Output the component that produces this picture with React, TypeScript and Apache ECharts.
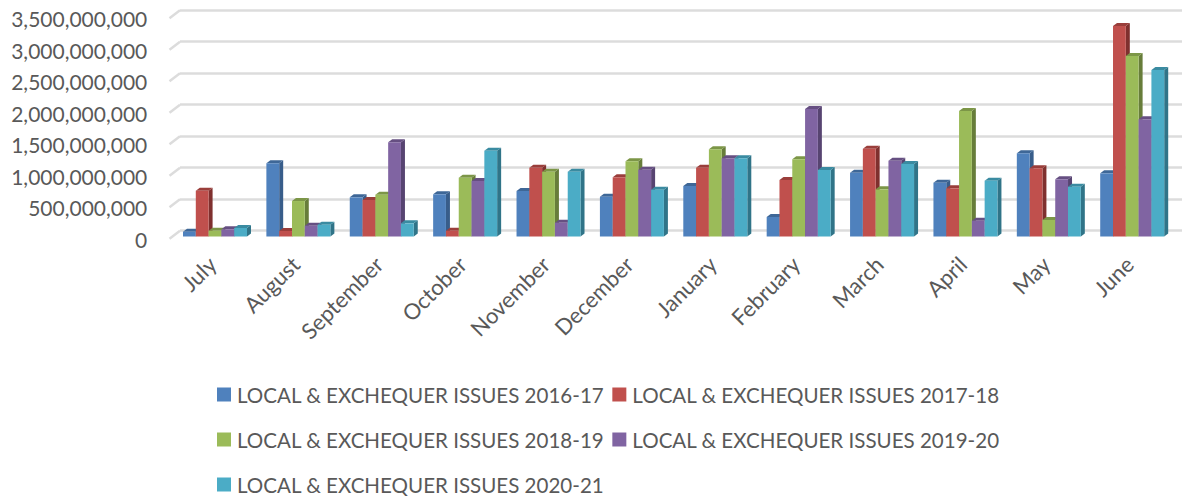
import React, { useEffect, useRef } from "react";
import * as echarts from "echarts";

const categories = ["July","August","September","October","November","December","January","February","March","April","May","June"];
const issues2016 = [76,1162,622,670,722,632,802,310,1013,854,1321,1003].map((v) => v * 1e6);
const issues2017 = [727,87,580,92,1092,940,1092,897,1394,765,1083,3341].map((v) => v * 1e6);
const issues2018 = [92,563,664,933,1029,1193,1384,1225,749,1992,262,2865].map((v) => v * 1e6);
const issues2019 = [114,171,1495,881,219,1060,1241,2024,1203,251,908,1860].map((v) => v * 1e6);
const issues2020 = [135,187,209,1362,1029,743,1241,1056,1151,886,790,2643].map((v) => v * 1e6);
const wallTicks = [0,500,1000,1500,2000,2500,3000,3500].map((v) => v * 1e6);

const names = [
  "LOCAL & EXCHEQUER ISSUES 2016-17",
  "LOCAL & EXCHEQUER ISSUES 2017-18",
  "LOCAL & EXCHEQUER ISSUES 2018-19",
  "LOCAL & EXCHEQUER ISSUES 2019-20",
  "LOCAL & EXCHEQUER ISSUES 2020-21",
];
const seriesValues = [issues2016, issues2017, issues2018, issues2019, issues2020];
const faceColors = ["#4F81BD", "#C0504D", "#9BBB59", "#8064A2", "#4BACC6"];
const sideColors = ["#385D8A", "#7F302E", "#677D3A", "#574471", "#307488"];
const topColors = ["#3E6797", "#9A3E3B", "#7C9647", "#664F82", "#3A8BA1"];

const FONT = "Lato";
const TEXT = "#595959";
const GRID_LINE = "#DCDCDC";
const DEPTH_X = 4;
const DEPTH_Y = 3;

function barRenderer(seriesIndex: number) {
  return (_params: any, api: any) => {
    const idx = api.value(0);
    const val = api.value(1);
    const base = api.coord([idx, 0]);
    const top = api.coord([idx, val]);
    const band = api.size([1, 0])[0];
    const w = band * 0.1535;
    const x0 = base[0] + (seriesIndex - 2.5) * w;
    const x1 = x0 + w;
    const yB = base[1];
    const yT = top[1];
    return {
      type: "group",
      children: [
        {
          type: "polygon",
          shape: { points: [[x1, yT], [x1 + DEPTH_X, yT - DEPTH_Y], [x1 + DEPTH_X, yB - DEPTH_Y], [x1, yB]] },
          style: { fill: sideColors[seriesIndex] },
        },
        {
          type: "polygon",
          shape: { points: [[x0, yT], [x0 + DEPTH_X, yT - DEPTH_Y], [x1 + DEPTH_X, yT - DEPTH_Y], [x1, yT]] },
          style: { fill: topColors[seriesIndex] },
        },
        {
          type: "rect",
          shape: { x: x0, y: yT, width: w, height: yB - yT },
          style: { fill: faceColors[seriesIndex] },
        },
      ],
    };
  };
}

function wallRenderer(params: any, api: any) {
  const p = api.coord([0, api.value(0)]);
  const left = params.coordSys.x;
  return {
    type: "line",
    shape: { x1: left - 3.8, y1: p[1] + 2.2, x2: left + 6.7, y2: p[1] - 5.8 },
    style: { stroke: GRID_LINE, lineWidth: 2.5 },
  };
}

const legendBase = {
  left: 217,
  icon: "rect",
  itemWidth: 14,
  itemHeight: 14,
  itemGap: 8,
  padding: 0,
  textStyle: { fontFamily: FONT, fontSize: 20.55, color: TEXT, padding: [0, 0, 0, 1] },
};

export default function App() {
  const ref = useRef<HTMLDivElement>(null);
  useEffect(() => {
    document.body.style.margin = "0";
    const chart = echarts.init(ref.current!, undefined, { renderer: "svg" });
    chart.setOption({
      animation: false,
      backgroundColor: "#fff",
      grid: [
        { left: 173.3, top: 16, width: 1000.6, height: 220.5 },
        { left: 180, top: 10, width: 1002, height: 220.7 },
      ],
      xAxis: [
        {
          type: "category",
          gridIndex: 0,
          data: categories,
          axisLine: { show: false },
          axisTick: { show: false },
          axisLabel: { interval: 0, rotate: 45, margin: 21, fontFamily: FONT, fontSize: 22, color: TEXT, padding: [0, 4, 0, 0] },
        },
        { type: "category", gridIndex: 1, data: categories, show: false },
      ],
      yAxis: [
        {
          type: "value",
          gridIndex: 0,
          min: 0,
          max: 3500000000,
          interval: 500000000,
          axisLine: { show: false },
          axisTick: { show: false },
          splitLine: { show: false },
          axisLabel: { margin: 26, fontFamily: FONT, fontSize: 21, color: TEXT, verticalAlign: "top", padding: [-8, 0, 0, 0] },
        },
        {
          type: "value",
          gridIndex: 1,
          min: 0,
          max: 3500000000,
          interval: 500000000,
          axisLine: { show: false },
          axisTick: { show: false },
          axisLabel: { show: false },
          splitLine: { show: true, lineStyle: { color: GRID_LINE, width: 2.5 } },
        },
      ],
      legend: [
        { ...legendBase, top: 384, data: [names[0], names[1]] },
        { ...legendBase, top: 429, data: [names[2], names[3]] },
        { ...legendBase, top: 474, data: [names[4]] },
      ],
      series: [
        {
          type: "custom",
          name: "wall",
          silent: true,
          xAxisIndex: 0,
          yAxisIndex: 0,
          renderItem: wallRenderer,
          data: wallTicks.map((v) => [v]),
          encode: { y: 0 },
          z: 1,
        },
        ...names.map((name, i) => ({
          type: "custom",
          name,
          xAxisIndex: 0,
          yAxisIndex: 0,
          itemStyle: { color: faceColors[i] },
          renderItem: barRenderer(i),
          data: seriesValues[i].map((v, j) => [j, v]),
          encode: { x: 0, y: 1 },
          z: 3,
        })),
      ],
    });
    return () => chart.dispose();
  }, []);
  return <div ref={ref} style={{ width: 1188, height: 497 }} />;
}
